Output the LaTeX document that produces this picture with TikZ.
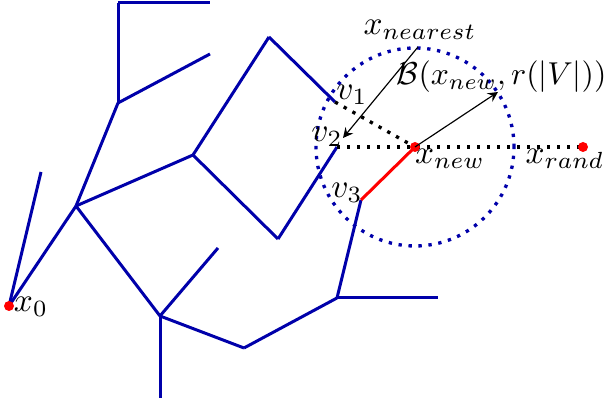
\documentclass[tikz,border=0pt]{standalone}
\usepackage{amsmath}
\usepackage{amssymb}
\usepackage{tikz}
\usepackage{xcolor}
\usetikzlibrary{arrows}

\definecolor{treeblue}{RGB}{0,0,170}

\begin{document}
\begin{tikzpicture}[x=0.3pt,y=0.3pt,
  treeedge/.style={treeblue,line width=0.9pt},
  newedge/.style={red,line width=0.9pt},
  nearline/.style={black,dotted,line width=1pt},
  ptr/.style={-stealth,black,line width=0.35pt},
  vdot/.style={circle,fill=red,inner sep=0pt,minimum size=3pt}]
  \useasboundingbox (0,0) rectangle (609,409);
  % tree vertices
  \foreach \n/\p in {n1/{41,237},n2/{76,203},n3/{118,306},n4/{118,406},n5/{210,406},
    n6/{210,355},n7/{193,254},n8/{269,372},v1/{335,307},n9/{278,170},v2/{337,262},
    n10/{160,93},n11/{218,161},n12/{160,11},n13/{244,61},n14/{337,111},n15/{438,111},v3/{361,209}}{
    \coordinate (\n) at (\p);
  }
  \coordinate (xnew) at (415,262);
  \coordinate (xrand) at (583,262);
  \coordinate (x0) at (9,103);
  \coordinate (nearesttip) at (343,271);
  \coordinate (balltip) at (498,317);
  % ball
  \draw[treeblue,dotted,line width=1pt] (xnew) circle (99);
  % tree
  \foreach \a/\b in {x0/n1,x0/n2,n2/n3,n3/n4,n4/n5,n3/n6,n2/n7,n7/n8,n8/v1,n7/n9,n9/v2,
    n2/n10,n10/n11,n10/n12,n10/n13,n13/n14,n14/n15,n14/v3}{
    \draw[treeedge] (\a) -- (\b);
  }
  \draw[nearline] (v1) -- (xnew);
  \draw[nearline] (v2) -- (xrand);
  \draw[newedge] (v3) -- (xnew);
  \node[vdot] (x0dot) at (x0) {};
  \node[vdot] (xnewdot) at (xnew) {};
  \node[vdot] (xranddot) at (xrand) {};
  % labels
  \node (lx0) at (31,102) {$x_0$};
  \node (lv1) at (352,314) {$v_1$};
  \node (lv2) at (327,272) {$v_2$};
  \node (lv3) at (347,216) {$v_3$};
  \node (lxnew) at (450,250) {$x_{new}$};
  \node (lxrand) at (565,250) {$x_{rand}$};
  \node (lnearest) at (420,379) {$x_{nearest}$};
  \node[anchor=east,inner sep=0pt,scale=0.95] (lball) at (607,332) {$\mathcal{B}(x_{new},r(|V|))$};
  \draw[ptr] (418,362) -- (nearesttip);
  \draw[ptr] (xnew) -- (balltip);
\end{tikzpicture}
\end{document}
